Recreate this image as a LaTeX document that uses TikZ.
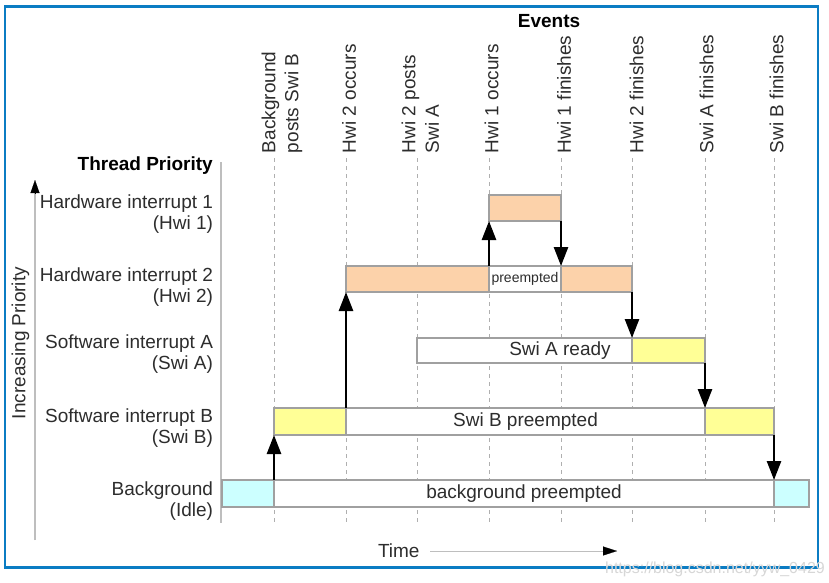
\documentclass[tikz,border=0pt]{standalone}
\usepackage{fontspec}
\setmainfont{Liberation Sans}
\usetikzlibrary{arrows.meta}
\definecolor{peach}{RGB}{252,210,170}
\definecolor{lyellow}{RGB}{255,255,150}
\definecolor{lcyan}{RGB}{204,255,255}
\definecolor{frameblue}{RGB}{11,124,195}
\definecolor{boxgray}{RGB}{160,160,160}
\definecolor{axisgray}{RGB}{190,190,190}
\definecolor{dashgray}{RGB}{175,175,175}
\definecolor{txt}{RGB}{45,45,45}
\definecolor{wmark}{RGB}{215,215,215}
\tikzset{
  bx/.style={draw=boxgray, line width=1.1pt, inner sep=0pt, outer sep=0pt, anchor=north west, text=txt},
  peachbox/.style={bx, fill=peach},
  yelbox/.style={bx, fill=lyellow},
  cyanbox/.style={bx, fill=lcyan},
  whitebox/.style={bx, fill=white},
  evlabel/.style={rotate=90, anchor=west, inner sep=0pt, outer sep=0pt, text=txt, font=\fontsize{19}{21}\selectfont},
  rowlabel/.style={anchor=base east, inner sep=0pt, outer sep=0pt, text=txt, font=\fontsize{19}{21}\selectfont},
  boxtext/.style={inner sep=0pt, text=txt, font=\fontsize{19}{21}\selectfont},
  titletext/.style={inner sep=0pt, text=black, font=\fontsize{19}{21}\selectfont\bfseries},
  evline/.style={draw=dashgray, line width=0.9pt, dash pattern=on 4pt off 4pt},
  flow/.style={draw=black, line width=2.6pt, -{Triangle[length=19pt,width=14pt]}},
  sepline/.style={draw=axisgray, line width=1.6pt}
}
\begin{document}
\begin{tikzpicture}[x=1pt,y=-1pt]
\useasboundingbox (0,0) rectangle (829,582);
\fill[white] (0,0) rectangle (829,582);

% event dashed lines
\foreach \n/\x in {1/274,2/346,3/417,4/489,5/561,6/632,7/705,8/774}{
  \coordinate (evt\n) at (\x,158);
  \coordinate (evb\n) at (\x,524);
  \draw[evline] (evt\n) -- (evb\n);
}

% titles
\node[titletext, anchor=base] (events) at (549,27) {Events};
\node[titletext, anchor=base east] (thread) at (213,170) {Thread Priority};

% event labels
\node[evlabel] (e1a) at (270.5,153) {Background};
\node[evlabel] (e1b) at (293.5,153) {posts Swi B};
\node[evlabel] (e2) at (349,153) {Hwi 2 occurs};
\node[evlabel] (e3a) at (410.5,153) {Hwi 2 posts};
\node[evlabel] (e3b) at (432,153) {Swi A};
\node[evlabel] (e4) at (491.5,153) {Hwi 1 occurs};
\node[evlabel] (e5) at (564,153) {Hwi 1 finishes};
\node[evlabel] (e6) at (636.5,153) {Hwi 2 finishes};
\node[evlabel] (e7) at (706.5,153) {Swi A finishes};
\node[evlabel] (e8) at (776.5,153) {Swi B finishes};

% row labels
\node[rowlabel] (r1a) at (213,208) {Hardware interrupt 1};
\node[rowlabel] (r1b) at (213,229) {(Hwi 1)};
\node[rowlabel] (r2a) at (213,281) {Hardware interrupt 2};
\node[rowlabel] (r2b) at (213,302) {(Hwi 2)};
\node[rowlabel] (r3a) at (213,348) {Software interrupt A};
\node[rowlabel] (r3b) at (213,369) {(Swi A)};
\node[rowlabel] (r4a) at (213,422) {Software interrupt B};
\node[rowlabel] (r4b) at (213,443) {(Swi B)};
\node[rowlabel] (r5a) at (213,495) {Background};
\node[rowlabel] (r5b) at (213,516) {(Idle)};

% separator and priority axis
\coordinate (sept) at (221,162);
\coordinate (sepb) at (221,523);
\draw[sepline] (sept) -- (sepb);
\coordinate (axb) at (35,540);
\coordinate (axt) at (35,180);
\draw[sepline] (axb) -- (35,192);
\draw[draw=black, line width=0.1pt, -{Triangle[length=13pt,width=9pt]}] (35,193) -- (axt);
\node[evlabel, anchor=center] (incp) at (20.5,343) {Increasing Priority};

% boxes
\node[peachbox, minimum width=72pt, minimum height=26pt] (hwiA) at (489,195) {};
\node[peachbox, minimum width=143pt, minimum height=26pt] (hwiBa) at (346,266) {};
\node[whitebox, minimum width=72pt, minimum height=26pt, font=\fontsize{14}{16}\selectfont] (hwiBp) at (489,266) {preempted};
\node[peachbox, minimum width=71pt, minimum height=26pt] (hwiBb) at (561,266) {};
\node[whitebox, minimum width=215pt, minimum height=25pt] (swiAr) at (417,338) {};
\node[boxtext] (swiArt) at (560,351) {Swi A ready};
\node[yelbox, minimum width=73pt, minimum height=25pt] (swiAy) at (632,338) {};
\node[yelbox, minimum width=72pt, minimum height=27pt] (swiBa) at (274,408) {};
\node[whitebox, minimum width=359pt, minimum height=27pt, font=\fontsize{19}{21}\selectfont] (swiBp) at (346,408) {Swi B preempted};
\node[yelbox, minimum width=69pt, minimum height=27pt] (swiBb) at (705,408) {};
\node[cyanbox, minimum width=52pt, minimum height=27pt] (bgA) at (222,480) {};
\node[whitebox, minimum width=500pt, minimum height=27pt, font=\fontsize{19}{21}\selectfont] (bgP) at (274,480) {background preempted};
\node[cyanbox, minimum width=35pt, minimum height=27pt] (bgB) at (774,480) {};

% flow arrows
\draw[flow] (bgP.north west) -- (swiBa.south west);
\draw[flow] (swiBp.north west) -- (hwiBa.south west);
\draw[flow] (hwiBp.north west) -- (hwiA.south west);
\draw[flow] (hwiA.south east) -- (hwiBb.north west);
\draw[flow] (hwiBb.south east) -- (swiAy.north west);
\draw[flow] (swiAy.south east) -- (swiBb.north west);
\draw[flow] (swiBb.south east) -- (bgB.north west);

% time axis
\node[rowlabel, anchor=base west] (time) at (378,557) {Time};
\coordinate (tstart) at (430,551);
\coordinate (tend) at (617,551);
\draw[draw=axisgray, line width=1pt] (tstart) -- (604,551);
\draw[draw=black, line width=0.1pt, -{Triangle[length=14pt,width=9pt]}] (604,551) -- (tend);

% frame
\draw[draw=frameblue, line width=2.6pt] (5,6.5) rectangle (818,567.5);

% watermark
\node[anchor=base east, inner sep=0pt, text=wmark, font=\fontsize{16}{18}\selectfont] (wm) at (825,573) {https://blog.csdn.net/yyw\_0429};
\end{tikzpicture}
\end{document}
